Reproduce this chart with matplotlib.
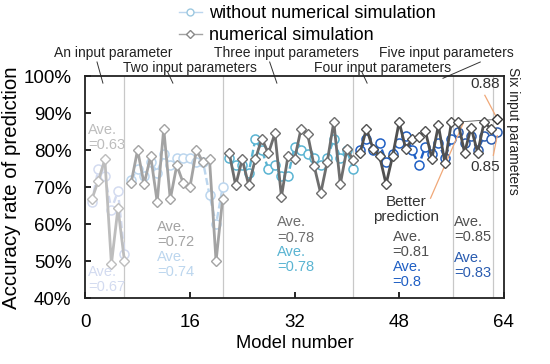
import matplotlib.pyplot as plt
from matplotlib.lines import Line2D

plt.rcParams['font.family'] = ['Liberation Sans', 'DejaVu Sans']

# accuracy (%) per model, grouped by number of input parameters
sim_1 = [66.8, 71.8, 77.6, 49.3, 64.4, 50.1]
sim_2 = [71.1, 80.1, 70.9, 78.5, 66.1, 85.9, 66.8, 76.0, 71.1, 70.0, 80.1, 76.8, 77.6, 50.1, 66.8]
sim_3 = [79.4, 70.6, 77.6, 70.6, 77.6, 83.2, 79.2, 84.6, 67.5, 78.5, 77.6, 85.9, 84.4, 75.8, 68.4,
         76.9, 87.7, 70.9, 80.3, 77.4]
sim_4 = [79.2, 85.9, 80.5, 78.5, 70.9, 78.5, 87.7, 80.5, 83.0, 83.7, 85.3, 77.8, 86.8, 76.6, 87.7]
sim_5 = [87.7, 79.4, 86.2, 79.4, 87.7, 85.9]
sim_6 = [88.4]

nosim_1 = [66, 75, 73, 64, 69, 52]
nosim_2 = [72, 75, 73, 77, 74, 79, 76, 78, 78, 78, 77, 77, 68, 60, 70]
nosim_3 = [78, 76, 76, 74, 83, 80, 75, 76, 73, 73, 81, 80, 79, 78, 76, 78, 83, 78, 80, 75]
nosim_4 = [80, 83, 80, 82, 77, 79, 82, 84, 80, 76, 81, 79, 82, 78, 83]
nosim_5 = [85, 82, 84, 80, 84, 83]
nosim_6 = [85]

sim_ave = ['0.63', '0.72', '0.78', '0.81', '0.85']
nosim_ave = ['0.67', '0.74', '0.78', '0.8', '0.83']

sim_groups = [sim_1, sim_2, sim_3, sim_4, sim_5, sim_6]
nosim_groups = [nosim_1, nosim_2, nosim_3, nosim_4, nosim_5, nosim_6]
sim_colors = ['#bdbdbd', '#a3a3a3', '#6e6e6e', '#505050', '#505050', '#333333']
nosim_colors = ['#d3dbf0', '#bcd6ee', '#5ab4d2', '#1f5fc4', '#2a5cb0', '#2a5cb0']

fig = plt.figure(figsize=(5.5, 3.64), dpi=100)
ax = fig.add_axes([0.155, 0.18, 0.761, 0.61])

start = 1
for s, n, cs, cn in zip(sim_groups, nosim_groups, sim_colors, nosim_colors):
    xs = list(range(start, start + len(s)))
    ax.plot(xs, n, ls=(0, (3, 1.5)), lw=1.7, color=cn, marker='o', ms=6.5,
            mfc='white', mec=cn, mew=1.1, zorder=2)
    ax.plot(xs, s, ls='-', lw=2.0, color=cs, marker='D', ms=5,
            mfc='white', mec=cs, mew=1.0, zorder=3)
    start += len(s)

for xv in [6, 21, 41, 56.3, 62.4]:
    ax.axvline(xv, color='#c8c8c8', lw=0.9, zorder=1)

ax.plot([57, 63], [87.7, 88.4], color='#555555', lw=0.6, zorder=1)

ax.set_xlim(0, 64)
ax.set_ylim(40, 100)
ax.set_xticks([0, 16, 32, 48, 64])
ax.set_yticks(range(40, 101, 10))
ax.set_yticklabels(['%d%%' % v for v in range(40, 101, 10)])
ax.tick_params(direction='in', length=4, width=1.2, labelsize=13.5)
ax.tick_params(axis='y', pad=10)
ax.tick_params(axis='x', pad=11)
for sp in ax.spines.values():
    sp.set_linewidth(1.3)
    sp.set_color('#222222')
ax.set_xlabel('Model number', fontsize=13.2, labelpad=3)
ax.set_ylabel('Accuracy rate of prediction', fontsize=14.8, labelpad=2)

# averages
ave_x = [0.4, 11.0, 29.3, 47.0, 56.4]
ave_y_sim = [83.6, 57.4, 58.5, 54.7, 58.7]
ave_y_nosim = [45.2, 49.3, 50.6, 46.6, 49.0]
for i in range(5):
    ax.text(ave_x[i], ave_y_sim[i], 'Ave.\n=' + sim_ave[i], color=sim_colors[i],
            fontsize=10.5, va='center', ha='left', linespacing=1.1)
    ax.text(ave_x[i], ave_y_nosim[i], 'Ave.\n=' + nosim_ave[i], color=nosim_colors[i],
            fontsize=10.5, va='center', ha='left', linespacing=1.1)

# group labels above the plot
labels = ['An input parameter', 'Two input parameters', 'Three input parameters',
          'Four input parameters', 'Five input parameters']
lab_pos = [(4.25, 106.3), (16.0, 102.2), (30.8, 106.3), (45.5, 102.2), (55.2, 106.3)]
lead = [((1.8, 103.9), (2.7, 98.2)), ((12.6, 101.2), (13.4, 98.2)),
        ((28.2, 103.9), (29.3, 98.2)), ((42.3, 101.2), (43.1, 98.2)),
        ((60.4, 103.9), (54.7, 99.5))]
for t, (px, py), (a, b) in zip(labels, lab_pos, lead):
    ax.text(px, py, t, fontsize=10, ha='center', va='center', color='#222222')
    ax.plot([a[0], b[0]], [a[1], b[1]], color='#333333', lw=0.7, clip_on=False)
ax.text(65.4, 85.2, 'Six input parameters', rotation=270, fontsize=10,
        ha='center', va='center', color='#222222')

ax.text(61.1, 98.0, '0.88', fontsize=11, ha='center', va='center', color='#333333')
ax.text(61.1, 75.5, '0.85', fontsize=11, ha='center', va='center', color='#333333')
ax.plot([61.1, 62.8], [94.9, 89.2], color='#f0a878', lw=0.9)
ax.plot([62.4, 63.0], [78.7, 84.0], color='#f0a878', lw=0.9)
ax.text(49.0, 64.1, 'Better\nprediction', fontsize=11, ha='center', va='center',
        color='#333333', linespacing=1.1)
ax.plot([52.8, 57.8], [67.1, 87.4], color='#f0a878', lw=0.9)

handles = [Line2D([], [], color='#bcd6ee', marker='o', ms=5, mfc='white', mec='#9cc8e0', lw=1),
           Line2D([], [], color='#a3a3a3', marker='D', ms=4, mfc='white', mec='#888888', lw=1)]
fig.legend(handles, ['without numerical simulation', 'numerical simulation'],
           loc='upper left', bbox_to_anchor=(0.318, 0.995), frameon=False, fontsize=13,
           handlelength=1.3, handletextpad=0.4, labelspacing=0.25, borderpad=0.2,
           borderaxespad=0)

fig.savefig('out.png', dpi=100)
